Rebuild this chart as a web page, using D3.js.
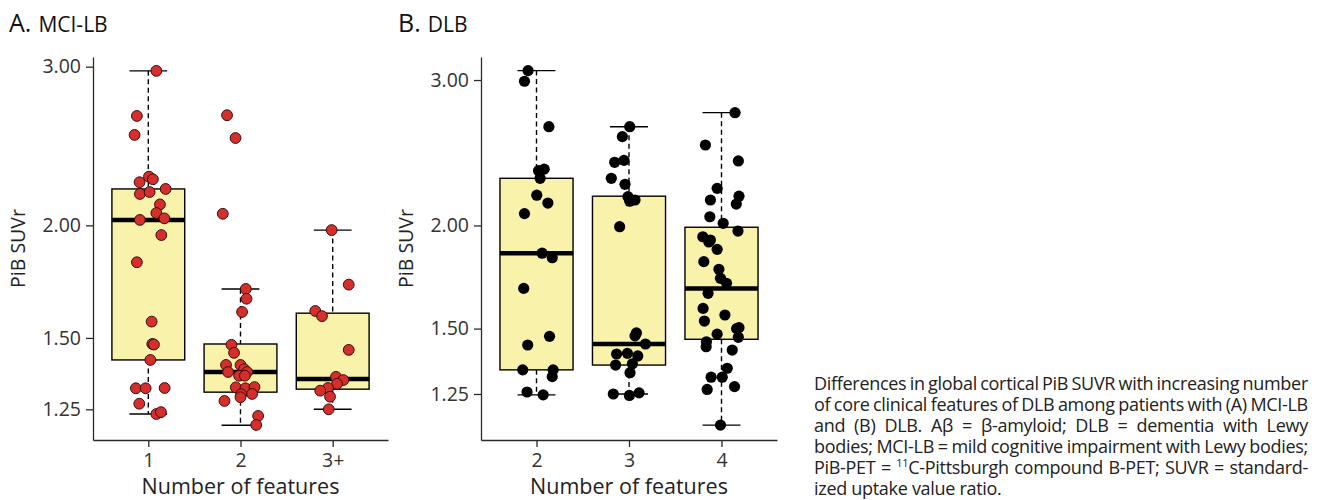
<!DOCTYPE html>
<html>
<head>
<meta charset="utf-8">
<script src="https://cdn.jsdelivr.net/npm/d3@7"></script>
<style>
  body { margin: 0; background: #fff; font-family: "Open Sans", sans-serif; }
  #wrap { position: relative; width: 1338px; height: 500px; overflow: hidden; }
  #chart { position: absolute; left: 0; top: 0; }
  #caption { position: absolute; left: 814px; top: 373px; width: 494px;
             font-size: 18px; line-height: 21px; color: #222; letter-spacing: -0.3px; }
  .ln { display: flex; justify-content: space-between; white-space: nowrap; height: 21px; }
  .ln.last { display: block; }
  sup { font-size: 11px; vertical-align: 7px; line-height: 0; }
</style>
</head>
<body>
<div id="wrap">
  <svg id="chart" width="1338" height="500"></svg>
  <div id="caption"></div>
</div>
<script>
// === 1. data ==========================================
const catsA = ['1', '2', '3+'];
const catsB = ['2', '3', '4'];
const yTicks = [1.25, 1.5, 2, 3];

// box stats per category: [whisker low, Q1, median, Q3, whisker high]
const boxA = [
  [1.235, 1.418, 2.028, 2.195, 2.968],
  [1.200, 1.306, 1.375, 1.477, 1.700],
  [1.250, 1.316, 1.351, 1.598, 1.976]
];
const boxB = [
  [1.247, 1.337, 1.851, 2.281, 3.080],
  [1.250, 1.355, 1.437, 2.170, 2.634],
  [1.146, 1.456, 1.678, 1.990, 2.739]
];

// jittered points: [offset in category units, PiB SUVr]
const ptsA1 = [[0.087,2.968],[-0.124,2.645],[-0.149,2.52],[0.007,2.265],[0.05,2.25],[-0.095,2.233],
  [0.188,2.195],[-0.091,2.167],[0.014,2.178],[0.126,2.11],[0.087,2.064],[-0.091,2.028],[0.174,2.036],
  [0.141,1.951],[-0.124,1.82],[0.036,1.564],[0.043,1.477],[0.061,1.475],[0.022,1.418],[-0.135,1.319],
  [-0.029,1.319],[0.177,1.32],[-0.098,1.268],[0.087,1.235],[0.137,1.241]];
const ptsA2 = [[-0.146,2.65],[-0.054,2.50],[-0.192,2.06],[0.058,1.70],[0.065,1.658],[0.017,1.603],
  [-0.098,1.474],[-0.07,1.444],[-0.157,1.40],[0,1.40],[0.039,1.385],[-0.135,1.375],[0.072,1.375],
  [-0.015,1.362],[0.047,1.362],[-0.051,1.322],[0.054,1.319],[0.152,1.323],[0.007,1.299],[0.126,1.30],
  [0,1.289],[-0.174,1.277],[0.191,1.229],[0.17,1.201]];
const ptsA3 = [[-0.011,1.976],[0.174,1.719],[-0.189,1.607],[-0.116,1.586],[0.174,1.455],[0.036,1.358],
  [0.115,1.347],[0.047,1.334],[-0.051,1.32],[-0.135,1.311],[-0.029,1.291],[-0.043,1.25]];

const ptsB2 = [[-0.091,3.08],[-0.13,2.99],[0.134,2.634],[0.022,2.33],[0.083,2.34],[0.039,2.281],
  [0.003,2.176],[0.123,2.129],[-0.13,2.067],[0.061,1.851],[0.17,1.828],[-0.138,1.678],[0.141,1.468],
  [-0.095,1.433],[-0.149,1.337],[0.18,1.337],[0.17,1.312],[-0.102,1.257],[0.072,1.247]];
const ptsB3 = [[0.008,2.634],[-0.072,2.562],[-0.155,2.385],[-0.054,2.398],[-0.191,2.281],[-0.043,2.243],
  [-0.011,2.167],[0.065,2.147],[0.008,2.14],[-0.101,1.993],[0.08,1.482],[0.065,1.47],[0.178,1.437],
  [-0.134,1.3975],[-0.017,1.40],[0.095,1.39],[-0.145,1.355],[0.037,1.36],[0.011,1.3265],[-0.17,1.25],
  [0.004,1.245],[0.109,1.254]];
const ptsB4 = [[0.146,2.739],[-0.174,2.503],[0.182,2.394],[-0.047,2.218],[0.189,2.17],[-0.12,2.147],
  [0.16,2.123],[-0.126,2.049],[0.018,2.012],[0.178,1.969],[-0.202,1.938],[-0.12,1.92],[-0.137,1.91],
  [-0.047,1.871],[-0.191,1.808],[-0.028,1.77],[-0.011,1.726],[0.054,1.702],[-0.145,1.655],[-0.199,1.587],
  [0.037,1.558],[-0.185,1.532],[0.189,1.504],[0.163,1.50],[-0.047,1.477],[0.182,1.464],[-0.163,1.446],
  [-0.166,1.426],[0.116,1.413],[0.062,1.343],[-0.112,1.31],[0.008,1.31],[-0.155,1.266],[0.141,1.276],
  [-0.011,1.146]];

const captionLines = [
  'Differences in global cortical PiB SUVR with increasing number',
  'of core clinical features of DLB among patients with (A) MCI-LB',
  'and (B) DLB. A\u03b2 = \u03b2-amyloid; DLB = dementia with Lewy',
  'bodies; MCI-LB = mild cognitive impairment with Lewy bodies;',
  'PiB-PET = ^11C-Pittsburgh compound B-PET; SUVR = standard-',
  'ized uptake value ratio.'
];

// === 2. panels ========================================
const svg = d3.select('#chart');
const ink = '#2b2b2b';

function panel(opt) {
  const g = svg.append('g');

  const x = d3.scalePoint().domain(opt.cats).range([opt.x0, opt.x1]).padding(0.6);
  const y = d3.scaleLog().domain(opt.yDomain).range([440, 57]);
  const step = x.step();
  const bw = step * 0.79, cap = step * 0.41;

  // boxes + whiskers
  opt.boxes.forEach((b, i) => {
    const cx = x(opt.cats[i]);
    const [lo, q1, med, q3, hi] = b;
    const bx = g.append('g');
    bx.append('line').attr('x1', cx).attr('x2', cx).attr('y1', y(hi)).attr('y2', y(q3))
      .attr('stroke', '#000').attr('stroke-width', 1.4).attr('stroke-dasharray', '5,3.5');
    bx.append('line').attr('x1', cx).attr('x2', cx).attr('y1', y(q1)).attr('y2', y(lo))
      .attr('stroke', '#000').attr('stroke-width', 1.4).attr('stroke-dasharray', '5,3.5');
    [hi, lo].forEach(v => bx.append('line')
      .attr('x1', cx - cap / 2).attr('x2', cx + cap / 2).attr('y1', y(v)).attr('y2', y(v))
      .attr('stroke', '#000').attr('stroke-width', 1.4));
    bx.append('rect').attr('x', cx - bw / 2).attr('width', bw)
      .attr('y', y(q3)).attr('height', y(q1) - y(q3))
      .attr('fill', '#f8f2aa').attr('stroke', '#000').attr('stroke-width', 1.4);
    bx.append('line').attr('x1', cx - bw / 2).attr('x2', cx + bw / 2).attr('y1', y(med)).attr('y2', y(med))
      .attr('stroke', '#000').attr('stroke-width', 4.5);
  });

  // jittered points
  opt.pts.forEach((pts, i) => {
    g.append('g').selectAll('circle').data(pts).join('circle')
      .attr('cx', d => x(opt.cats[i]) + d[0] * step)
      .attr('cy', d => y(d[1]))
      .attr('r', opt.r)
      .attr('fill', opt.fill)
      .attr('stroke', opt.stroke)
      .attr('stroke-width', opt.stroke === 'none' ? 0 : 1);
  });

  // axes
  const ya = g.append('g').attr('transform', `translate(${opt.x0},0)`)
    .call(d3.axisLeft(y).tickValues(yTicks).tickFormat(d3.format('.2f')).tickSize(7).tickPadding(5).tickSizeOuter(0));
  const xa = g.append('g').attr('transform', 'translate(0,440)')
    .call(d3.axisBottom(x).tickSize(7).tickPadding(6).tickSizeOuter(0));
  [ya, xa].forEach(a => {
    a.selectAll('path, line').attr('stroke', ink).attr('stroke-width', 1.3);
    a.selectAll('text').attr('fill', '#333').style('font-family', '"Open Sans"').style('font-size', '19.5px');
  });

  // titles
  g.append('text').attr('x', (opt.x0 + opt.x1) / 2).attr('y', 494).attr('text-anchor', 'middle')
    .style('font-size', '21.5px').attr('fill', '#222').text('Number of features');
  g.append('text').attr('transform', `translate(${opt.x0 - 68},${(57 + 440) / 2}) rotate(-90)`)
    .attr('text-anchor', 'middle').style('font-size', '19.5px').attr('fill', '#222').text('PiB SUVr');
  const t = g.append('text').attr('x', opt.tx).attr('y', 32).attr('fill', '#111');
  t.append('tspan').style('font-size', '25px').text(opt.letter);
  t.append('tspan').attr('dx', 7).style('font-size', '21px').text(opt.name);
}

svg.style('font-family', '"Open Sans", sans-serif');

panel({ cats: catsA, boxes: boxA, pts: [ptsA1, ptsA2, ptsA3], x0: 93, x1: 388,
        yDomain: [1.1557, 3.075], r: 5.4, fill: '#d42f2c', stroke: '#3a0d0d',
        tx: 9, letter: 'A.', name: 'MCI-LB' });
panel({ cats: catsB, boxes: boxB, pts: [ptsB2, ptsB3, ptsB4], x0: 481, x1: 777,
        yDomain: [1.0995, 3.199], r: 5.6, fill: '#000', stroke: 'none',
        tx: 398, letter: 'B.', name: 'DLB' });

// === 3. caption (justified line by line) ==============
const cap = d3.select('#caption');
captionLines.forEach((line, i) => {
  const last = i === captionLines.length - 1;
  const div = cap.append('div').attr('class', last ? 'ln last' : 'ln');
  if (last) { div.text(line); return; }
  line.split(' ').forEach(w => {
    const s = div.append('span');
    if (w.startsWith('^11')) {
      s.append('sup').text('11');
      s.append('span').text(w.slice(3));
    } else {
      s.text(w);
    }
  });
});
</script>
</body>
</html>
